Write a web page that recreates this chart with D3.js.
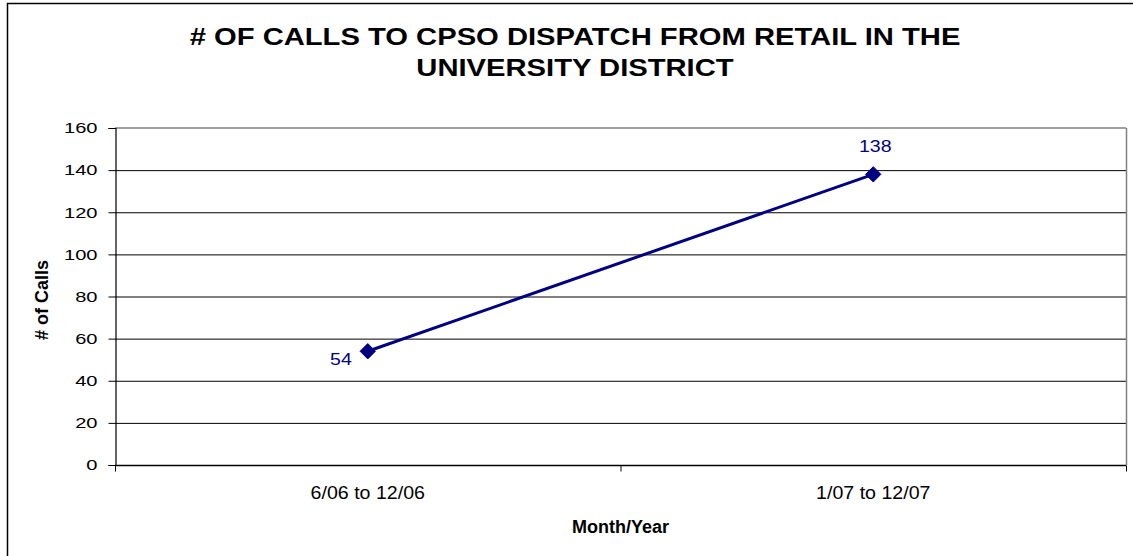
<!DOCTYPE html>
<html><head><meta charset="utf-8">
<script src="https://cdn.jsdelivr.net/npm/d3@7"></script>
<style>body{margin:0;background:#fff}svg{display:block}text{font-family:Arial,"Liberation Sans",sans-serif}</style>
</head><body>
<svg id="c" width="1133" height="556"></svg>
<script>
const categories = ["6/06 to 12/06", "1/07 to 12/07"];
const values = [54, 138];
const yTicks = [0, 20, 40, 60, 80, 100, 120, 140, 160];
const titleLines = ["# OF CALLS TO CPSO DISPATCH FROM RETAIL IN THE", "UNIVERSITY DISTRICT"];
const yTitle = "# of Calls";
const xTitle = "Month/Year";

const svg = d3.select("#c");
const L = 115, R = 1126, T = 128, B = 465;
const navy = "#000080";
const FONT = "Arial, Liberation Sans, sans-serif";

// outer chart border
svg.append("rect").attr("x", 7.5).attr("y", 3.5).attr("width", 1140).attr("height", 560)
  .attr("fill", "none").attr("stroke", "#000").attr("stroke-width", 1.5);

const x = d3.scaleBand().domain(categories).range([L, R]);
const y = d3.scaleLinear().domain([0, 160]).range([B, T]);

// gridlines
svg.append("g").selectAll("line").data(yTicks.filter(v => v > 0 && v < 160)).join("line")
  .attr("x1", L).attr("x2", R).attr("y1", d => y(d) + 0.5).attr("y2", d => y(d) + 0.5)
  .attr("stroke", "#000").attr("stroke-width", 1);
// plot area border top & right (gray)
svg.append("line").attr("x1", L).attr("x2", R).attr("y1", y(160)).attr("y2", y(160))
  .attr("stroke", "#808080").attr("stroke-width", 1.5);
svg.append("line").attr("x1", R + 0.5).attr("x2", R + 0.5).attr("y1", T).attr("y2", B)
  .attr("stroke", "#808080").attr("stroke-width", 1.5);

// y axis
const yAxis = d3.axisLeft(y).tickValues(yTicks).tickSize(7);
const gy = svg.append("g").attr("transform", `translate(${L + 0.5},0)`).call(yAxis);
gy.select(".domain").attr("stroke", "#000").attr("stroke-width", 1.2);
gy.selectAll(".tick line").attr("stroke", "#000");
gy.selectAll(".tick text").attr("x", 0).attr("transform", "translate(-18,0) scale(1.34,1)")
  .attr("font-size", 15).attr("font-family", FONT).attr("fill", "#000");

// x axis
const gx = svg.append("g").attr("transform", `translate(0,${B + 0.5})`);
gx.append("line").attr("x1", L).attr("x2", R).attr("stroke", "#000").attr("stroke-width", 1.5);
const bounds = [L, ...categories.map(c => x(c) + x.bandwidth())];
gx.selectAll("line.t").data(bounds).join("line").attr("class", "t")
  .attr("x1", d => d + 0.5).attr("x2", d => d + 0.5).attr("y1", 0).attr("y2", 6).attr("stroke", "#000");
gx.selectAll("text").data(categories).join("text")
  .attr("transform", d => `translate(${x(d) + x.bandwidth() / 2},33) scale(1.12,1)`)
  .attr("text-anchor", "middle").attr("font-size", 17.5).text(d => d);

// line
const pts = categories.map((c, i) => [x(c) + x.bandwidth() / 2, y(values[i])]);
svg.append("path").attr("d", d3.line()(pts)).attr("fill", "none").attr("stroke", navy).attr("stroke-width", 3);
svg.append("g").selectAll("path").data(pts).join("path")
  .attr("d", d3.symbol(d3.symbolDiamond2, 150)())
  .attr("transform", d => `translate(${d[0]},${d[1]})`)
  .attr("fill", navy).attr("stroke", navy);

// data labels
svg.append("text").attr("transform", `translate(${pts[0][0] - 16},${pts[0][1] + 14}) scale(1.15,1)`)
  .attr("text-anchor", "end").attr("font-size", 17).attr("fill", navy).text(values[0]);
svg.append("text").attr("transform", `translate(${pts[1][0] + 2},${pts[1][1] - 22}) scale(1.15,1)`)
  .attr("text-anchor", "middle").attr("font-size", 17).attr("fill", navy).text(values[1]);

// title
svg.append("g").selectAll("text").data(titleLines).join("text")
  .attr("transform", (d, i) => `translate(575,${45 + i * 31}) scale(1.27,1)`).attr("text-anchor", "middle")
  .attr("font-size", 23).attr("font-weight", "bold").text(d => d);

// axis titles
svg.append("text").attr("transform", "translate(48,300) rotate(-90)").attr("text-anchor", "middle")
  .attr("font-size", 18).attr("font-weight", "bold").text(yTitle);
svg.append("text").attr("x", (L + R) / 2).attr("y", 533).attr("text-anchor", "middle")
  .attr("font-size", 18).attr("font-weight", "bold").text(xTitle);
</script>
</body></html>
